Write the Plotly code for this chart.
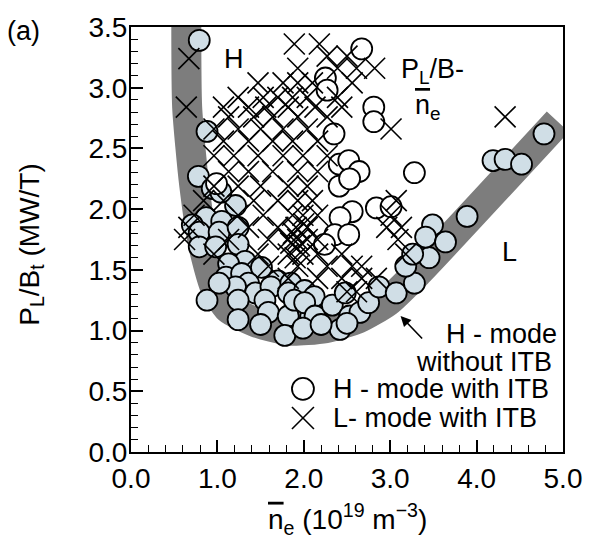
import plotly.graph_objects as go

# ---------------- data ----------------
# H-mode without ITB (filled circles)
h_noitb_x = [0.79, 0.88, 0.78, 0.94, 1.21, 1.04, 0.87, 0.71, 1.05, 0.79, 1.02, 1.24, 0.79, 0.98, 1.24,
             1.32, 1.13, 1.10, 1.28, 1.51, 1.70, 1.36, 1.21, 1.02, 1.44, 0.88, 1.24, 1.62, 1.85, 1.55,
             1.82, 2.01, 1.24, 1.59, 1.82, 1.78, 2.08, 1.89, 2.12, 2.01, 2.13, 2.33, 2.48, 2.53, 2.42,
             2.65, 2.75, 2.87, 3.07, 3.28, 3.18, 3.45, 3.26, 3.49, 3.41, 3.64, 3.89, 4.19, 4.33, 4.52,
             4.78, 1.99, 1.50, 2.20, 2.50]
h_noitb_y = [3.39, 2.64, 2.27, 2.17, 2.03, 2.14, 1.93, 1.87, 1.90, 1.81, 1.81, 1.85, 1.69, 1.69, 1.71,
             1.57, 1.55, 1.44, 1.47, 1.52, 1.41, 1.39, 1.36, 1.39, 1.31, 1.25, 1.25, 1.36, 1.39, 1.25,
             1.31, 1.33, 1.09, 1.15, 1.12, 0.96, 1.12, 1.25, 1.28, 1.23, 1.12, 1.21, 1.31, 1.12, 1.01,
             1.15, 1.23, 1.36, 1.31, 1.39, 1.53, 1.60, 1.63, 1.87, 1.77, 1.73, 1.94, 2.40, 2.41, 2.37,
             2.62, 1.02, 1.05, 1.05, 1.06]

# H-mode with ITB (open circles)
h_itb_x = [2.67, 2.25, 2.27, 2.81, 2.81, 2.35, 2.41, 2.52, 2.64, 2.41, 2.53, 3.28, 2.56, 2.84, 2.42,
           2.36, 2.52, 2.24, 3.01, 0.99]
h_itb_y = [3.32, 3.08, 2.98, 2.84, 2.72, 2.62, 2.37, 2.40, 2.31, 2.19, 2.25, 2.30, 1.98, 2.01, 1.93,
           1.79, 1.79, 1.71, 2.02, 2.21]

# L-mode with ITB (crosses)
l_itb_x = [1.89, 2.18, 0.67, 2.27, 2.50, 0.64, 1.93, 2.39, 2.61, 2.82,
           1.47, 1.76, 1.93, 2.10, 2.56, 1.24, 1.53, 1.70, 1.87, 2.04, 2.39,
           1.07, 1.36, 1.56, 1.82, 2.13, 2.44, 1.13, 1.42, 1.64, 1.93, 2.27,
           0.96, 1.24, 1.50, 1.76, 2.04, 3.01, 4.33,
           1.07, 1.36, 1.64, 1.87, 2.16, 0.96, 1.19, 1.47, 1.76, 1.99, 2.27,
           1.13, 1.36, 1.64, 1.93, 2.16, 0.96, 1.24, 1.50, 1.82, 2.04,
           0.84, 1.07, 1.42, 1.70, 1.93, 2.10, 3.07,
           0.73, 1.24, 1.53, 1.87, 1.99, 2.16, 3.01,
           0.67, 1.36, 1.70, 1.91, 2.04, 2.96, 3.13,
           0.62, 1.13, 1.59, 1.82, 1.93, 2.04, 2.16, 3.09,
           0.96, 1.47, 1.82, 1.99, 2.16, 2.44, 3.18,
           1.59, 1.93, 2.27, 2.56, 2.67, 1.82, 2.16, 2.44, 2.67, 2.84, 2.50, 2.61,
           1.88, 1.95, 1.90, 2.00, 1.85]
l_itb_y = [3.36, 3.36, 3.24, 3.26, 3.26, 2.84, 3.16, 3.16, 3.16, 3.16,
           3.04, 3.04, 3.04, 3.04, 3.04, 2.92, 2.92, 2.92, 2.92, 2.92, 2.92,
           2.84, 2.84, 2.84, 2.84, 2.84, 2.84, 2.76, 2.76, 2.76, 2.76, 2.76,
           2.66, 2.66, 2.66, 2.66, 2.66, 2.66, 2.76,
           2.56, 2.56, 2.56, 2.56, 2.56, 2.44, 2.44, 2.44, 2.44, 2.44, 2.44,
           2.31, 2.31, 2.31, 2.31, 2.31, 2.19, 2.19, 2.19, 2.19, 2.19,
           2.07, 2.07, 2.07, 2.07, 2.07, 2.07, 2.07,
           1.95, 1.95, 1.95, 1.95, 1.95, 1.95, 1.95,
           1.85, 1.85, 1.85, 1.85, 1.85, 1.85, 1.85,
           1.75, 1.75, 1.75, 1.75, 1.75, 1.75, 1.75, 1.75,
           1.63, 1.63, 1.63, 1.63, 1.63, 1.63, 1.63,
           1.53, 1.53, 1.53, 1.53, 1.53, 1.43, 1.43, 1.43, 1.43, 1.43, 1.32, 1.32,
           1.80, 1.70, 1.60, 1.88, 1.72]

# grey guide band (H-mode without ITB boundary)
band_x = [0.64, 0.65, 0.73, 0.84, 0.97, 1.13, 1.44, 1.83, 2.25, 2.63, 2.97, 3.32, 4.94]
band_y = [3.60, 2.84, 2.21, 1.69, 1.36, 1.18, 1.07, 1.00, 1.02, 1.10, 1.24, 1.48, 2.72]

FONT = "Liberation Sans, Arial, Helvetica, sans-serif"
FS = 27
FILL = "#d0dee6"
GREY = "#7d7d7d"

fig = go.Figure()

fig.add_trace(go.Scatter(x=band_x, y=band_y, mode="lines",
                         line=dict(color=GREY, width=30, shape="spline", smoothing=0.6),
                         hoverinfo="skip", showlegend=False))

fig.add_trace(go.Scatter(x=h_noitb_x, y=h_noitb_y, mode="markers", name="H-mode without ITB",
                         marker=dict(symbol="circle", size=21, color=FILL,
                                     line=dict(color="black", width=1.8)),
                         showlegend=False))
fig.add_trace(go.Scatter(x=h_itb_x, y=h_itb_y, mode="markers", name="H-mode with ITB",
                         marker=dict(symbol="circle", size=21, color="white",
                                     line=dict(color="black", width=1.8)),
                         showlegend=False))
fig.add_trace(go.Scatter(x=l_itb_x, y=l_itb_y, mode="markers", name="L-mode with ITB",
                         marker=dict(symbol="x-thin", size=21, color="black",
                                     line=dict(color="black", width=1.6)),
                         showlegend=False))

tfont = dict(family=FONT, size=FS, color="black")
tickfont = dict(family=FONT, size=28, color="black")

axis_common = dict(showgrid=False, zeroline=False, showline=True, mirror=True,
                   linecolor="black", linewidth=2, ticks="inside", ticklen=12,
                   tickwidth=1.5, tickcolor="black", tickfont=tickfont, tickformat=".1f")

fig.update_xaxes(range=[0, 5], dtick=1, tick0=0,
                 minor=dict(dtick=0.2, ticks="inside", ticklen=7, tickwidth=1.3,
                            tickcolor="black", showgrid=False),
                 **axis_common)
fig.update_yaxes(range=[0, 3.5], dtick=0.5, tick0=0, ticklabelstandoff=-4,
                 minor=dict(dtick=0.1, ticks="inside", ticklen=7, tickwidth=1.3,
                            tickcolor="black", showgrid=False),
                 **axis_common)

ann = []
# axis titles
ann.append(dict(xref="paper", yref="paper", x=-0.231, y=0.488, textangle=-90,
                text="P<sub>L</sub>/B<sub>t</sub> (MW/T)", showarrow=False,
                xanchor="center", yanchor="middle", font=dict(family=FONT, size=28, color="black")))
ann.append(dict(xref="paper", yref="paper", x=0.502, y=-0.157,
                text="<span style='text-decoration:overline'>n</span><sub>e</sub> (10<sup>19</sup> m<sup>\u22123</sup>)",
                showarrow=False, xanchor="center", yanchor="middle",
                font=dict(family=FONT, size=28, color="black")))
ann.append(dict(xref="paper", yref="paper", x=-0.249, y=0.991, text="(a)", showarrow=False,
                xanchor="center", yanchor="middle", font=tfont))
# region labels
ann.append(dict(x=1.19, y=3.24, text="H", showarrow=False, xanchor="center", yanchor="middle", font=tfont))
ann.append(dict(x=4.38, y=1.65, text="L", showarrow=False, xanchor="center", yanchor="middle", font=tfont))
ann.append(dict(x=3.49, y=3.14, text="P<sub>L</sub>/B-", showarrow=False, xanchor="center",
                yanchor="middle", font=tfont))
ann.append(dict(x=3.44, y=2.84, text="<span style='text-decoration:overline'>n</span><sub>e</sub>",
                showarrow=False, xanchor="center", yanchor="middle", font=tfont))
# arrow + legend texts
ann.append(dict(x=3.12, y=1.12, ax=23, ay=24, text="", showarrow=True, arrowhead=2,
                arrowsize=1.3, arrowwidth=1.6, arrowcolor="black"))
ann.append(dict(x=4.95, y=0.97, text="H - mode", showarrow=False, xanchor="right",
                yanchor="middle", font=tfont))
ann.append(dict(x=4.90, y=0.74, text="without ITB", showarrow=False, xanchor="right",
                yanchor="middle", font=tfont))
ann.append(dict(x=2.31, y=0.52, text="H - mode with ITB", showarrow=False, xanchor="left",
                yanchor="middle", font=tfont))
ann.append(dict(x=2.31, y=0.28, text="L- mode with ITB", showarrow=False, xanchor="left",
                yanchor="middle", font=tfont))

# legend keys (drawn as shapes)
shapes = [
    dict(type="circle", xref="x", yref="y", xsizemode="pixel", ysizemode="pixel",
         xanchor=1.99, yanchor=0.52, x0=-11, x1=11, y0=-11, y1=11,
         line=dict(color="black", width=1.8), fillcolor="white"),
    dict(type="line", xref="x", yref="y", xsizemode="pixel", ysizemode="pixel",
         xanchor=1.99, yanchor=0.28, x0=-11, x1=11, y0=-11, y1=11,
         line=dict(color="black", width=1.6)),
    dict(type="line", xref="x", yref="y", xsizemode="pixel", ysizemode="pixel",
         xanchor=1.99, yanchor=0.28, x0=-11, x1=11, y0=11, y1=-11,
         line=dict(color="black", width=1.6)),
]

fig.update_layout(width=594, height=544, margin=dict(l=131, r=25, t=18, b=92),
                  paper_bgcolor="white", plot_bgcolor="white",
                  annotations=ann, shapes=shapes, showlegend=False,
                  font=dict(family=FONT, size=FS, color="black"))

fig.write_html("out.html")
